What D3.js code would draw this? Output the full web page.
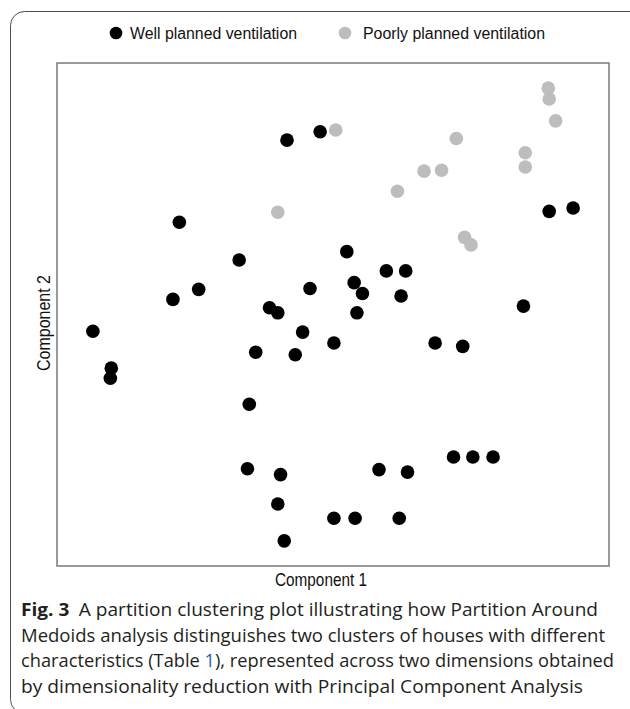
<!DOCTYPE html>
<html>
<head>
<meta charset="utf-8">
<script src="https://cdn.jsdelivr.net/npm/d3@7"></script>
<style>
  body { margin: 0; background: #fff; }
  svg { display: block; }
</style>
</head>
<body>
<script>
// Partition clustering plot - PAM clusters on the first two principal components

// Cluster 1: well planned ventilation (component 1, component 2)
var well_c1 = [-0.50, -0.14, -1.67, -1.02, -1.74, -1.46, -2.61, -2.41, -2.42, -0.69,
               -0.60, -0.25, 0.15, 0.23, 0.32, 0.58, 0.79, 0.74, 0.26, -0.33,
               -0.84, -0.41, 0.01, 1.11, 1.41, 2.07, 2.35, 2.61, -0.91, -0.93,
               -0.57, -0.60, -0.53, 0.01, 0.24, 0.72, 0.50, 0.81, 1.31, 1.52, 1.74];
var well_c2 = [2.08, 2.18, 1.10, 0.65, 0.18, 0.30, -0.20, -0.64, -0.76, 0.08,
               0.02, 0.31, 0.75, 0.38, 0.25, 0.52, 0.52, 0.22, 0.02, -0.21,
               -0.45, -0.48, -0.34, -0.34, -0.38, 0.10, 1.23, 1.27, -1.07, -1.84,
               -1.91, -2.26, -2.70, -2.43, -2.43, -2.43, -1.85, -1.88, -1.70, -1.70, -1.70];

// Cluster 2: poorly planned ventilation
var poor_c1 = [0.03, -0.60, 0.70, 0.99, 1.18, 1.34, 1.43, 1.50, 2.09, 2.09, 2.34, 2.35, 2.42];
var poor_c2 = [2.20, 1.22, 1.47, 1.71, 1.72, 2.10, 0.92, 0.83, 1.93, 1.76, 2.70, 2.57, 2.31];

var legend_labels = ["Well planned ventilation", "Poorly planned ventilation"];
var axis_labels   = ["Component 1", "Component 2"];
var caption_lines = [
	["Fig. 3", "\u2002A partition clustering plot illustrating how Partition Around"],
	["", "Medoids analysis distinguishes two clusters of houses with different"],
	["", "characteristics (Table ", "1", "), represented across two dimensions obtained"],
	["", "by dimensionality reduction with Principal Component Analysis"]
];

var width  = 630;
var height = 709;
var frame  = {left: 57, top: 63, right: 609, bottom: 566};
var colors = ["#000000", "#bdbdbd"];

var svg = d3.select("body").append("svg")
	.attr("width", width)
	.attr("height", height);

// outer rounded box of the figure (bottom and right run off the page)
svg.append("rect")
	.attr("x", 10.5).attr("y", 11.5)
	.attr("width", 640).attr("height", 702)
	.attr("rx", 14).attr("ry", 14)
	.attr("fill", "none")
	.attr("stroke", "#4d4d4d")
	.attr("stroke-width", 1);

var x = d3.scaleLinear().domain([-3, 3]).range([frame.left, frame.right]);
var y = d3.scaleLinear().domain([-3, 3]).range([frame.bottom, frame.top]);

// plot frame
svg.append("rect")
	.attr("x", frame.left).attr("y", frame.top)
	.attr("width", frame.right - frame.left)
	.attr("height", frame.bottom - frame.top)
	.attr("fill", "none")
	.attr("stroke", "#7a7a7a")
	.attr("stroke-width", 1.5);

function make_points(c1, c2, cluster) {
	var pts = [];
	for (var i = 0; i < c1.length; i++) {
		pts.push({c1: c1[i], c2: c2[i], cluster: cluster});
	}
	return pts;
}

var points = make_points(well_c1, well_c2, 0).concat(make_points(poor_c1, poor_c2, 1));

svg.append("g").selectAll("circle")
	.data(points)
	.enter()
	.append("circle")
	.attr("cx", function (d) { return x(d.c1); })
	.attr("cy", function (d) { return y(d.c2); })
	.attr("r", 6.8)
	.attr("fill", function (d) { return colors[d.cluster]; });

// legend
var legend_x = [116, 345];
var legend = svg.append("g").selectAll("g")
	.data(legend_labels)
	.enter()
	.append("g")
	.attr("transform", function (d, i) { return "translate(" + legend_x[i] + ",33)"; });

legend.append("circle")
	.attr("r", 6.3)
	.attr("fill", function (d, i) { return colors[i]; });

legend.append("text")
	.attr("x", function (d, i) { return i == 0 ? 14 : 18; })
	.attr("y", 5.8)
	.attr("font-family", "Liberation Sans, Arial, sans-serif")
	.attr("font-size", 16)
	.attr("fill", "#111")
	.attr("textLength", function (d, i) { return i == 0 ? 167 : 182; })
	.attr("lengthAdjust", "spacingAndGlyphs")
	.text(function (d) { return d; });

// axis titles
svg.append("text")
	.attr("x", 321).attr("y", 586)
	.attr("text-anchor", "middle")
	.attr("font-family", "Liberation Sans, Arial, sans-serif")
	.attr("font-size", 18.5)
	.attr("fill", "#111")
	.attr("textLength", 92)
	.attr("lengthAdjust", "spacingAndGlyphs")
	.text(axis_labels[0]);

svg.append("text")
	.attr("transform", "translate(50,323) rotate(-90)")
	.attr("text-anchor", "middle")
	.attr("font-family", "Liberation Sans, Arial, sans-serif")
	.attr("font-size", 18.5)
	.attr("fill", "#111")
	.attr("textLength", 96)
	.attr("lengthAdjust", "spacingAndGlyphs")
	.text(axis_labels[1]);

// caption
var line_end = [598, 605, 614, 583];
var caption = svg.append("g").selectAll("text")
	.data(caption_lines)
	.enter()
	.append("text")
	.attr("x", 21)
	.attr("y", function (d, i) { return 616 + i * 25.5; })
	.attr("font-family", "Open Sans, Noto Sans, sans-serif")
	.attr("font-size", 18.5)
	.attr("fill", "#231f20")
	.attr("textLength", function (d, i) { return line_end[i] - 21; })
	.attr("lengthAdjust", "spacingAndGlyphs");

caption.each(function (parts) {
	var t = d3.select(this);
	for (var k = 0; k < parts.length; k++) {
		if (parts[k] === "") continue;
		var span = t.append("tspan").text(parts[k]);
		if (k == 0) span.attr("font-weight", "bold");
		if (parts[k] === "1" && k == 2) span.attr("fill", "#2b5fb4");
	}
});
</script>
</body>
</html>
